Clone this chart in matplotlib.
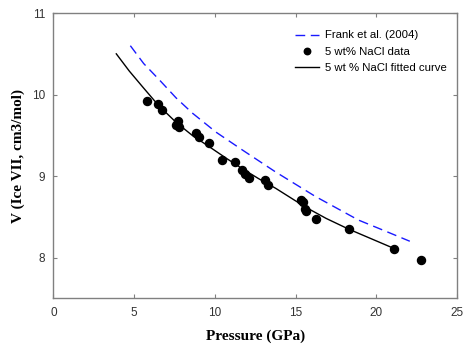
#!/usr/bin/env python3
"""Ice VII molar volume vs pressure, 5 wt% NaCl vs Frank et al. (2004)."""

import matplotlib
matplotlib.use('Agg')
import matplotlib.pyplot as plt

# measured data (5 wt% NaCl)
data_p = [5.82, 6.49, 6.72, 7.60, 7.75, 7.76, 8.81, 9.04, 9.67, 10.47,
          11.26, 11.71, 11.85, 12.10, 13.10, 13.31, 15.36, 15.47, 15.57,
          15.65, 16.29, 18.30, 21.12, 22.78]
data_v = [9.92, 9.89, 9.81, 9.63, 9.68, 9.60, 9.53, 9.48, 9.41, 9.20,
          9.17, 9.07, 9.02, 8.98, 8.95, 8.89, 8.71, 8.68, 8.59,
          8.57, 8.47, 8.35, 8.11, 7.97]

# fitted curve
fit_p = [3.90, 4.70, 5.55, 6.50, 7.60, 8.60, 9.66, 10.70, 11.71, 12.70,
         13.77, 15.61, 16.90, 18.28, 19.70, 21.12]
fit_v = [10.50, 10.29, 10.09, 9.87, 9.66, 9.50, 9.36, 9.22, 9.09, 8.97,
         8.85, 8.62, 8.48, 8.35, 8.23, 8.11]

# Frank et al. (2004)
frank_p = [4.77, 5.60, 6.57, 7.60, 8.63, 10.07, 11.71, 13.77, 16.23,
           18.90, 20.50, 22.08]
frank_v = [10.60, 10.38, 10.18, 9.96, 9.77, 9.54, 9.32, 9.05, 8.75,
           8.46, 8.33, 8.20]

plt.rcParams['font.family'] = ['Liberation Sans', 'DejaVu Sans']

fig = plt.figure(figsize=(4.65, 3.45), dpi=100)
ax = fig.add_axes([0.1147, 0.1354, 0.868, 0.8266])

ax.plot(frank_p, frank_v, color='#1a1aff', linewidth=1.0,
        dashes=(7, 4), label='Frank et al. (2004)')
ax.plot(data_p, data_v, 'o', color='black', markersize=5.8,
        linestyle='none', label='5 wt% NaCl data')
ax.plot(fit_p, fit_v, color='black', linewidth=1.0,
        label='5 wt % NaCl fitted curve')

ax.set_xlim(0, 25)
ax.set_ylim(7.5, 11)
ax.set_xticks([0, 5, 10, 15, 20, 25])
ax.set_yticks([8, 9, 10, 11])

for s in ax.spines.values():
    s.set_color('#808080')
    s.set_linewidth(1.0)
ax.tick_params(direction='in', length=3, width=0.8, color='#808080',
               labelsize=8.5, labelcolor='#333333', top=True, right=True,
               pad=6)

serif = ['Liberation Serif', 'DejaVu Serif']
ax.set_xlabel('Pressure (GPa)', family=serif, fontweight='bold',
              fontsize=11, labelpad=8)
ax.set_ylabel('V (Ice VII, cm3/mol)', family=serif, fontweight='bold',
              fontsize=11, labelpad=5)

ax.legend(loc='upper right', frameon=False, fontsize=8.2, handlelength=2.1,
          labelspacing=0.55, borderaxespad=0.5, handletextpad=0.5,
          markerscale=0.8, bbox_to_anchor=(1.0, 0.975))

fig.savefig('out.png', dpi=100)
